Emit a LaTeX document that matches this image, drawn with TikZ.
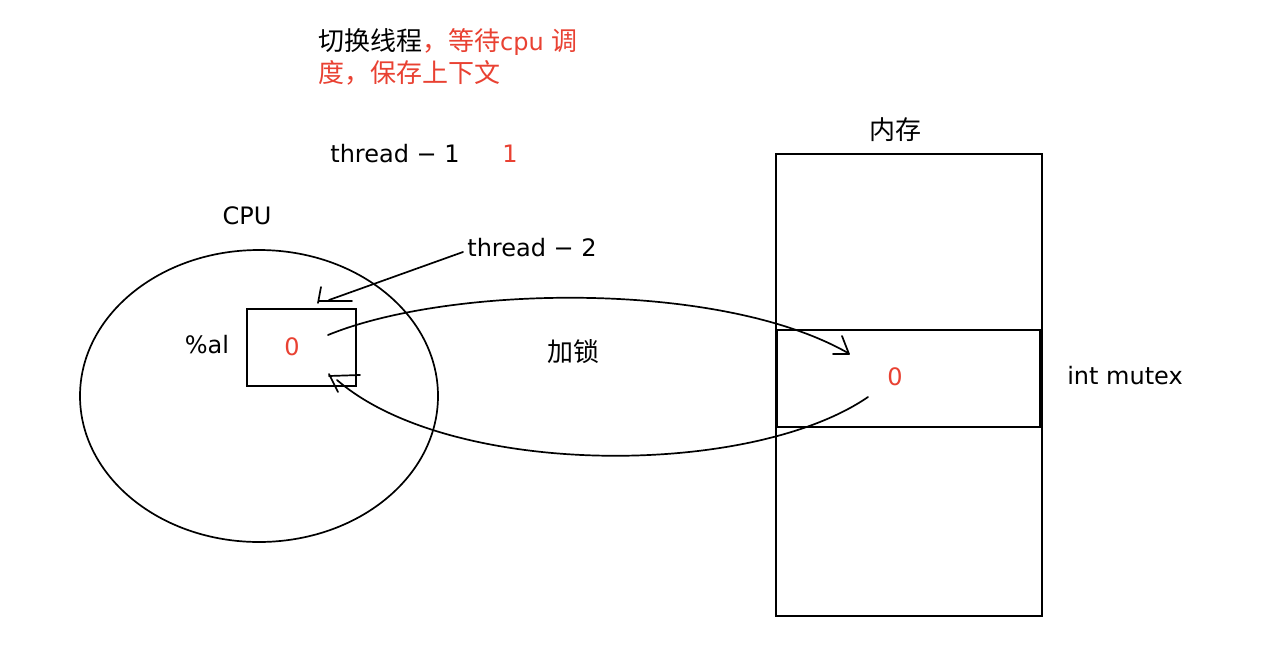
\documentclass[tikz,border=0pt]{standalone}
\usepackage{fontspec}
\setmainfont{DejaVu Sans}
\newfontfamily\cjkfam{Noto Sans CJK SC}
\newcommand{\myzh}[1]{{\cjkfam\fontsize{26}{30}\selectfont #1}}
\definecolor{myred}{RGB}{233,65,50}
\begin{document}
\begin{tikzpicture}[x=1pt,y=-1pt,
  lbl/.style={inner sep=0pt,font=\fontsize{24}{30}\selectfont},
  redlbl/.style={lbl,text=myred},
  ln/.style={line width=1.7pt,line cap=round}]
\useasboundingbox[fill=white] (0,0) rectangle (1264,646);
% CPU
\draw[ln] (259,396) ellipse [x radius=179, y radius=146];
\node[lbl] (cpu) at (247,216) {CPU};
\node[draw,line width=1.7pt,minimum width=109pt,minimum height=77pt,inner sep=0pt] (reg) at (301.5,347.5) {};
\node[redlbl] (zero1) at (292,347) {0};
\node[lbl] (al) at (207,345) {\%al};
% memory
\node[draw,line width=1.6pt,minimum width=266pt,minimum height=462pt,inner sep=0pt] (mem) at (909,385) {};
\node[lbl] (memlbl) at (895,130) {\myzh{内存}};
\node[draw,line width=1.7pt,minimum width=263pt,minimum height=97pt,inner sep=0pt] (cell) at (908.5,378.5) {};
\draw[line width=3pt] (cell.north west) -- (cell.south west);
\draw[line width=3pt] (cell.north east) -- (cell.south east);
\node[redlbl] (zero2) at (895,377) {0};
\node[lbl] (mutex) at (1125,376) {int mutex};
% texts
\node[lbl] (t1) at (395,154) {thread − 1};
\node[redlbl] (one) at (510,154) {1};
\node[lbl] (t2) at (532,248) {thread − 2};
\node[lbl] (lock) at (573,352) {\myzh{加锁}};
\node[lbl,anchor=west] (top1) at (318,42) {\myzh{切换线程}\textcolor{myred}{\myzh{，等待}cpu \myzh{调}}};
\node[redlbl,anchor=west] (top2) at (318,73) {\myzh{度，保存上下文}};
% thread-2 pointer
\coordinate (p2) at (329,300);
\draw[ln] (463,252) -- (p2);
\draw[ln] (319,301) -- (352,301);
\draw[ln] (321,287) -- (318,303);
% upper curve
\coordinate (ua) at (328,335);
\coordinate (ub) at (848,353);
\draw[ln] (ua) .. controls (450,285) and (720,280) .. (ub);
\draw[ln] (833,354) -- (849,354);
\draw[ln] (842,336) -- (849,354);
% lower curve
\coordinate (la) at (868,397);
\coordinate (lb) at (337,380);
\draw[ln] (la) .. controls (750,478) and (450,478) .. (lb);
\draw[ln] (329,376) -- (360,375);
\draw[ln] (329,374) -- (338,392);
\end{tikzpicture}
\end{document}
